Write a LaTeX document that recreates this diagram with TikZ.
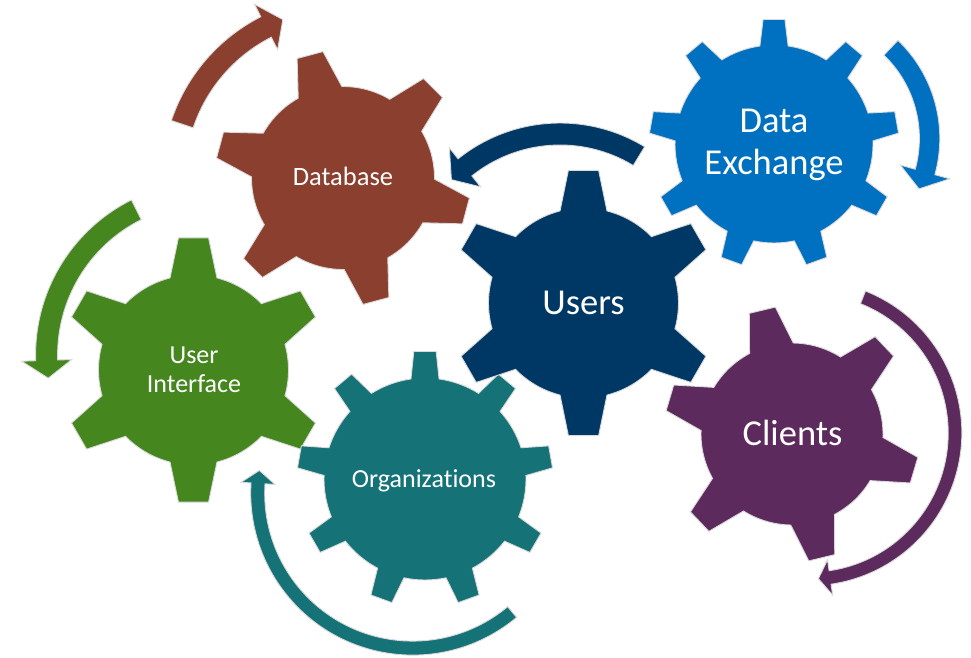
\documentclass[tikz,border=0pt]{standalone}
\usepackage{fontspec}
\setmainfont{Carlito}[Ligatures=NoCommon]
\definecolor{brownc}{HTML}{8B3F2F}
\definecolor{navyc}{HTML}{003865}
\definecolor{bluec}{HTML}{0070C0}
\definecolor{purplec}{HTML}{5C2A5C}
\definecolor{greenc}{HTML}{45861F}
\definecolor{tealc}{HTML}{157378}
\tikzset{
  gearedge/.style={draw=white!85!black, line width=0.9pt},
  bigtxt/.style={text=white, font=\fontsize{36.5}{42}\selectfont, inner sep=0pt},
  smalltxt/.style={text=white, font=\fontsize{26.5}{29}\selectfont, inner sep=0pt}
}
% cx cy teeth offset rbody rtip tiphalf(deg) basehalf(deg) colour
\newcommand\drawgear[9]{%
  \filldraw[fill=#9, gearedge, shift={(#1pt,#2pt)}]
    ({#4-#8}:#5pt)
    \foreach \k [evaluate=\k as \gang using {#4+(\k-1)*360/#3}] in {1,...,#3} {
      -- ({\gang-#7}:#6pt) -- ({\gang+#7}:#6pt) -- ({\gang+#8}:#5pt)
      arc[start angle={\gang+#8}, end angle={\gang+360/#3-#8}, radius=#5pt]
    } -- cycle;
}
% cx cy R halfthick tail base tip headhalf colour
\newcommand\arcarrow[9]{%
  \pgfmathsetmacro\arO{#3+#4}\pgfmathsetmacro\arI{#3-#4}%
  \pgfmathsetmacro\hdO{#3+#8}\pgfmathsetmacro\hdI{#3-#8}%
  \filldraw[fill=#9, gearedge, shift={(#1pt,#2pt)}]
    (#5:\arO pt) arc[start angle=#5, end angle=#6, radius=\arO pt]
    -- (#6:\hdO pt) -- (#7:#3pt) -- (#6:\hdI pt) -- (#6:\arI pt)
    arc[start angle=#6, end angle=#5, radius=\arI pt] -- cycle;
}
\begin{document}
\begin{tikzpicture}[x=1pt,y=1pt]
\useasboundingbox (0,0) rectangle (971,657);
% gears
\drawgear{343}{479}{6}{45}{91.5}{128}{6}{14.3}{brownc}
\drawgear{774}{513}{9}{10}{99}{125}{5}{8.2}{bluec}
\drawgear{193.5}{287}{6}{30}{95}{133}{6.5}{14.3}{greenc}
\drawgear{425}{178}{9}{10}{101}{128}{5}{8}{tealc}
\drawgear{792}{223}{6}{43.5}{91}{128}{6}{14.3}{purplec}
\drawgear{583.5}{354}{6}{30}{95}{133.5}{6.5}{14.3}{navyc}
% arrows
\arcarrow{343}{479}{169.5}{11.5}{161.5}{117}{110.8}{25.5}{brownc}
\arcarrow{560}{371}{152}{11}{58.7}{128.7}{135.6}{25}{navyc}
\arcarrow{804}{518.6}{125.6}{10.2}{46.2}{-15.5}{-23.7}{25.6}{bluec}
\arcarrow{809}{224}{146}{6.8}{68.3}{-81.7}{-86.3}{17.8}{purplec}
\arcarrow{209}{302}{162.4}{11}{116.6}{181.9}{188.2}{25}{greenc}
\arcarrow{412.7}{163.9}{155}{7}{-50.1}{-183.6}{-188.4}{17}{tealc}
% labels
\node[smalltxt, anchor=base] (db) at (343,471) {Database};
\node[bigtxt, anchor=base] (us) at (583.5,343) {Users};
\node[bigtxt, anchor=base] (cl) at (792.5,212) {Clients};
\node[bigtxt, anchor=base] (de) at (774,524) {\begin{tabular}[t]{@{}c@{}}Data\\Exchange\end{tabular}};
\node[smalltxt, anchor=base, font=\fontsize{26}{29}\selectfont] (ui) at (194,294) {\begin{tabular}[t]{@{}c@{}}User\\Interface\end{tabular}};
\node[smalltxt, anchor=base, font=\fontsize{26}{29}\selectfont] (org) at (424,170) {Organizations};
\end{tikzpicture}
\end{document}
